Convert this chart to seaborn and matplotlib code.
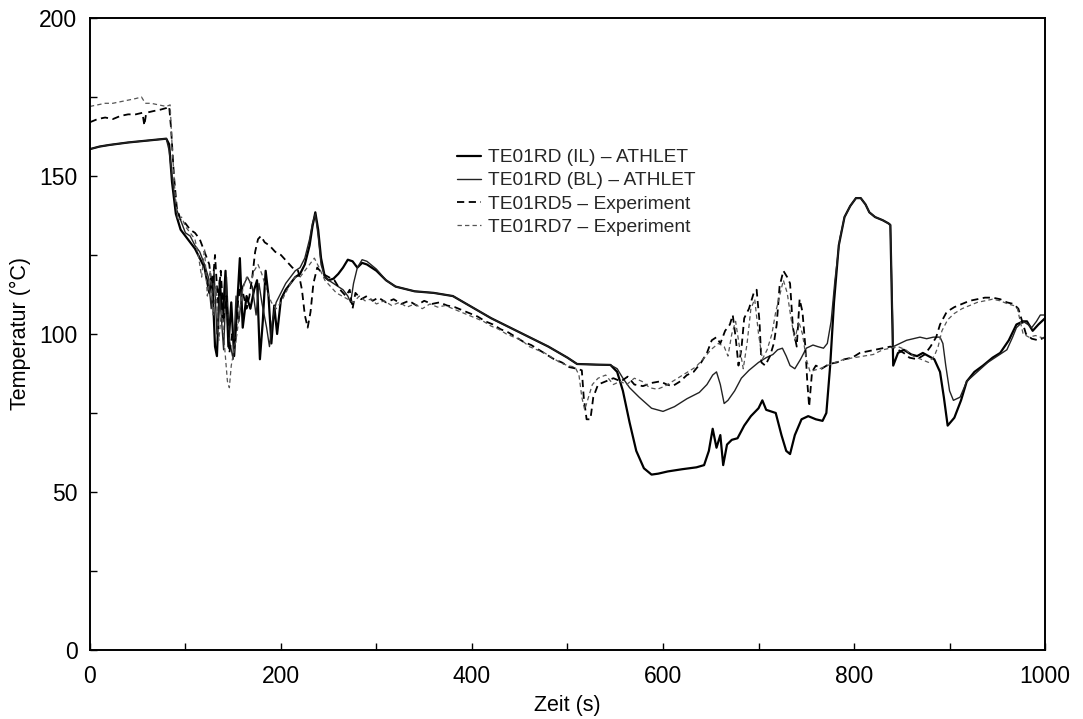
import numpy as np
import pandas as pd
import matplotlib
matplotlib.use("Agg")
import matplotlib.pyplot as plt
import seaborn as sns
from matplotlib.ticker import MultipleLocator

# ---------------- data ----------------
t_il = [0, 10, 20, 30, 40, 50, 60, 70, 80, 83, 86, 90, 95, 100, 105, 110, 115, 120, 125, 128, 131, 133, 136,
        139, 142, 145, 148, 151, 154, 157, 160, 164, 168, 172, 175, 178, 181, 184, 187, 190, 193, 196, 200,
        205, 210, 215, 220, 225, 230, 233, 236, 239, 242, 246, 250, 255, 260, 265, 270, 275, 280, 285, 290,
        300, 310, 320, 340, 360, 380, 400, 420, 440, 460, 480, 500, 510, 530, 545, 552, 558, 565, 572, 580,
        588, 595, 605, 620, 635, 643, 648, 652, 656, 660, 663, 667, 672, 678, 685, 692, 700, 704, 708, 713,
        718, 724, 729, 733, 738, 745, 752, 760, 767, 771, 775, 779, 784, 790, 796, 802, 807, 812, 816, 822,
        830, 836, 838, 841, 846, 852, 860, 866, 872, 878, 884, 890, 894, 898, 905, 912, 918, 926, 935, 945,
        953, 962, 970, 977, 981, 987, 993, 1000]
T_il = [158.5, 159.3, 159.8, 160.2, 160.6, 160.9, 161.2, 161.5, 161.8, 160, 148, 138, 133, 131, 129, 127, 124,
        121, 113, 118, 96, 93, 117, 104, 120, 96, 110, 93, 108, 124, 102, 112, 108, 114, 117, 92, 104, 120,
        112, 97, 109, 100, 111, 114, 116, 118, 119, 122, 128, 134, 138.5, 133, 124, 118, 117, 117.5, 119,
        121, 123.5, 123, 121, 122.5, 122, 120, 117, 115, 113.5, 113, 112, 108.5, 105, 102, 99, 96, 92.5,
        90.5, 90.3, 90.2, 88, 82, 72, 63, 57.5, 55.5, 55.8, 56.5, 57.2, 57.8, 58.5, 63, 70, 64, 68, 58.5,
        65, 66.5, 67, 71, 74, 76.5, 79, 76, 75.5, 75, 68, 63, 62, 68, 73, 74, 73, 72.5, 75, 90, 110, 128,
        137, 140.5, 143, 143, 141, 138.5, 137, 136, 135, 134.5, 90, 94, 95, 93.5, 93, 94, 93, 92, 88, 80,
        71, 73.5, 79, 85, 88, 90, 92.5, 94, 98, 103, 104, 104, 101, 103, 105]

t_bl = [0, 10, 20, 30, 40, 50, 60, 70, 80, 83, 86, 90, 95, 100, 105, 110, 115, 120, 124, 127, 130, 133, 136,
        140, 143, 146, 150, 153, 156, 160, 165, 170, 174, 177, 180, 185, 188, 191, 195, 200, 205, 210, 215,
        220, 225, 230, 233, 236, 239, 242, 246, 250, 255, 260, 265, 270, 273, 276, 280, 285, 290, 300, 310,
        320, 340, 360, 380, 400, 420, 440, 460, 480, 500, 510, 530, 545, 552, 558, 565, 575, 588, 600, 612,
        625, 638, 646, 652, 656, 660, 664, 668, 675, 682, 690, 700, 708, 715, 720, 725, 729, 733, 738, 744,
        750, 757, 762, 768, 772, 776, 780, 785, 790, 796, 802, 807, 812, 816, 822, 830, 836, 838, 841, 848,
        855, 862, 869, 876, 883, 890, 893, 896, 900, 904, 911, 918, 929, 940, 950, 960, 966, 970, 977, 982,
        986, 991, 995, 1000]
T_bl = [158.5, 159.3, 159.8, 160.2, 160.6, 160.9, 161.2, 161.5, 161.8, 158, 150, 140, 136, 132, 131, 128, 126,
        122, 118, 108, 120, 100, 112, 95, 118, 98, 92, 112, 104, 115, 118, 115, 106, 116, 110, 102, 96, 104,
        110, 113, 116, 118, 120, 121, 124, 130, 135, 138, 131, 122, 118, 117, 116, 115, 114, 112, 110, 116,
        121, 123.5, 123, 120.5, 117, 115, 113.5, 113, 112, 108.5, 105, 102, 99, 96, 92.5, 90.5, 90.3, 90.2,
        89, 86, 83, 80, 76.5, 75.5, 77, 79.5, 81.5, 84, 87, 88, 84, 78, 79, 82, 86, 88.5, 91, 92.5, 93.5,
        95, 95.5, 93, 90, 89, 92, 95.5, 96.5, 96, 95.5, 97, 104, 117, 130, 137, 140.5, 143, 143, 141, 138.5,
        137, 136, 135, 134.5, 96, 97, 98, 98.5, 99, 98.5, 99, 99, 97, 90, 82, 79, 80, 85, 88, 91, 93, 95,
        99, 102, 104, 103, 102, 104, 106, 106]

t_rd5 = [0, 8, 16, 24, 32, 40, 48, 55, 57, 59, 66, 74, 80, 83, 85, 88, 91, 95, 100, 105, 110, 115, 120, 125,
         128, 131, 134, 137, 140, 143, 146, 149, 152, 155, 158, 161, 164, 167, 170, 173, 176, 179, 183, 188,
         194, 200, 206, 212, 218, 222, 225, 228, 231, 234, 238, 244, 250, 256, 262, 268, 272, 275, 278, 284,
         290, 296, 302, 310, 318, 326, 334, 342, 350, 358, 366, 374, 382, 390, 398, 406, 414, 422, 430, 438,
         446, 454, 462, 470, 478, 486, 494, 502, 510, 515, 517, 520, 524, 527, 532, 540, 548, 556, 563, 570,
         579, 588, 597, 604, 610, 618, 625, 632, 640, 646, 651, 656, 660, 665, 670, 673, 676, 679, 682, 685,
         690, 695, 698, 701, 703, 707, 712, 716, 719, 722, 726, 730, 733, 736, 740, 743, 746, 749, 751, 753,
         756, 760, 766, 774, 782, 790, 798, 806, 814, 822, 830, 838, 846, 852, 858, 866, 874, 880, 886, 890,
         897, 905, 913, 921, 929, 937, 945, 953, 960, 967, 972, 976, 980, 986, 993, 1000]
T_rd5 = [167, 168, 168.5, 168, 169, 169.5, 169.5, 170, 166, 170, 170.5, 171, 171.5, 172, 165, 150, 140, 136,
         135, 133, 132, 130, 126, 122, 114, 125, 110, 120, 105, 112, 94, 100, 96, 110, 116, 112, 108, 112,
         118, 126, 130, 131, 129, 128, 126, 125, 123, 121, 120, 114, 106, 102, 107, 116, 121, 119, 118, 117,
         114, 112, 114, 108, 113, 111, 112, 110.5, 111.5, 110, 111, 109.5, 110.5, 109, 110.5, 109.5, 110,
         109, 108.5, 107.5, 106.5, 105.5, 104, 103, 101.5, 100.5, 99, 97.5, 96.5, 95, 93.5, 92, 91, 89.5,
         89, 88.5, 80, 73, 73, 80, 84, 85, 86, 85, 86.5, 84, 83.5, 84.5, 85, 84, 83.5, 85, 87, 88, 91, 94,
         98, 99, 97, 101, 103, 106, 99, 90, 95, 105, 108, 113, 114, 104, 91, 90, 93, 97, 103, 115, 120, 118,
         116, 102, 96, 111, 107, 96, 85, 77, 88, 90, 89, 90.5, 91, 92, 92.5, 94, 94.5, 95, 95.5, 96, 95, 94,
         92.5, 92, 93.5, 96, 99, 103, 107, 108.5, 109.5, 110.5, 111, 111.5, 111.5, 111, 110, 109.5, 108,
         104, 100, 98.5, 98, 99]

t_rd7 = [0, 8, 16, 24, 32, 40, 48, 54, 58, 64, 72, 80, 84, 86, 89, 92, 96, 100, 105, 110, 114, 117, 120, 123,
         126, 129, 132, 135, 138, 141, 144, 146, 148, 151, 154, 157, 160, 164, 168, 172, 176, 180, 185, 190,
         195, 200, 205, 210, 215, 220, 225, 230, 235, 240, 246, 252, 258, 264, 270, 276, 282, 288, 294, 300,
         308, 316, 324, 332, 340, 348, 356, 364, 372, 380, 388, 396, 404, 412, 420, 428, 436, 444, 452, 460,
         468, 476, 484, 492, 500, 508, 512, 515, 518, 522, 526, 532, 540, 548, 555, 562, 570, 578, 586, 594,
         602, 610, 618, 626, 634, 642, 650, 658, 664, 668, 672, 676, 680, 684, 688, 692, 696, 700, 704, 709,
         714, 718, 722, 726, 730, 734, 738, 742, 746, 750, 754, 758, 764, 772, 780, 790, 800, 810, 820, 830,
         838, 846, 854, 862, 870, 878, 884, 888, 892, 898, 905, 913, 921, 929, 937, 945, 953, 961, 967, 971,
         974, 977, 983, 990, 1000]
T_rd7 = [172, 172.5, 173, 173, 173.5, 174, 174.5, 175, 173, 173, 172.5, 172, 172.5, 160, 145, 136, 137, 134,
         132, 130, 124, 118, 127, 112, 120, 106, 115, 98, 108, 96, 85, 83, 90, 95, 100, 108, 114, 118, 116,
         120, 122, 119, 114, 110, 108, 110, 113, 116, 118, 118, 120, 122, 124, 121, 117, 115, 113, 112, 111,
         110, 112, 110.5, 111, 109.5, 110.5, 109, 110, 108.5, 109.5, 108, 109.5, 108.5, 109, 108, 107, 106,
         105, 104, 102.5, 101.5, 100, 99, 98, 96, 95, 94, 92.5, 91, 90, 89.5, 87, 80, 76, 80, 84, 86, 87, 84,
         85, 84, 86, 85, 83, 82.5, 83.5, 85, 86.5, 88, 89.5, 92, 95, 97, 96, 93, 100, 104, 96, 89, 97, 108,
         111, 100, 92, 95, 100, 107, 112, 117, 113, 105, 98, 104, 100, 92, 88, 88.5, 89, 90, 91, 92, 92.5,
         93, 93.5, 95, 95.5, 96, 95, 93, 92, 91, 93, 96, 101, 104.5, 106.5, 108, 109, 110, 110.5, 111, 110.5,
         109.5, 109, 108, 104, 100, 99, 99.5, 98.5]

labels = ["TE01RD (IL) \u2013 ATHLET", "TE01RD (BL) \u2013 ATHLET",
          "TE01RD5 \u2013 Experiment", "TE01RD7 \u2013 Experiment"]
x_ticks = [0, 200, 400, 600, 800, 1000]
y_ticks = [0, 50, 100, 150, 200]

# ---------------- plotting ----------------
sns.set_theme(style="ticks")
plt.rcParams['font.family'] = ['Liberation Sans', 'DejaVu Sans']

fig = plt.figure(figsize=(10.83, 7.19), dpi=100)
ax = fig.add_axes([0.083, 0.096, 0.882, 0.879])

series = [
    (t_il, T_il, labels[0], dict(color="black", lw=1.6, ls="-")),
    (t_bl, T_bl, labels[1], dict(color="#222222", lw=1.0, ls="-")),
    (t_rd5, T_rd5, labels[2], dict(color="black", lw=1.3, ls=(0, (4, 2.5)))),
    (t_rd7, T_rd7, labels[3], dict(color="#555555", lw=0.9, ls=(0, (3.5, 2.5)))),
]
for tx, ty, lab, st in series:
    df = pd.DataFrame({"t": tx, "T": ty})
    sns.lineplot(data=df, x="t", y="T", ax=ax, estimator=None, sort=False,
                 label=lab, color=st["color"], linewidth=st["lw"], linestyle=st["ls"])

ax.set_xlim(0, 1000)
ax.set_ylim(0, 200)
ax.set_xticks(x_ticks)
ax.set_yticks(y_ticks)
ax.xaxis.set_minor_locator(MultipleLocator(100))
ax.yaxis.set_minor_locator(MultipleLocator(25))
ax.tick_params(axis="both", which="both", direction="in", colors="black", labelsize=16.5)
ax.tick_params(which="major", length=5, width=1)
ax.tick_params(which="minor", length=5, width=1)
ax.tick_params(axis="x", pad=11)
ax.tick_params(axis="y", pad=9)
for s in ax.spines.values():
    s.set_visible(True)
    s.set_color("black")
    s.set_linewidth(1.4)

ax.set_xlabel("Zeit (s)", fontsize=15.5, color="black", labelpad=5)
ax.set_ylabel("Temperatur (\u00b0C)", fontsize=15.5, color="black", labelpad=6)

leg = ax.legend(loc="upper left", bbox_to_anchor=(0.376, 0.805), frameon=False, fontsize=13.8,
                handlelength=1.25, handletextpad=0.4, labelspacing=0.3, borderaxespad=0)

fig.savefig("out.png", dpi=100)
